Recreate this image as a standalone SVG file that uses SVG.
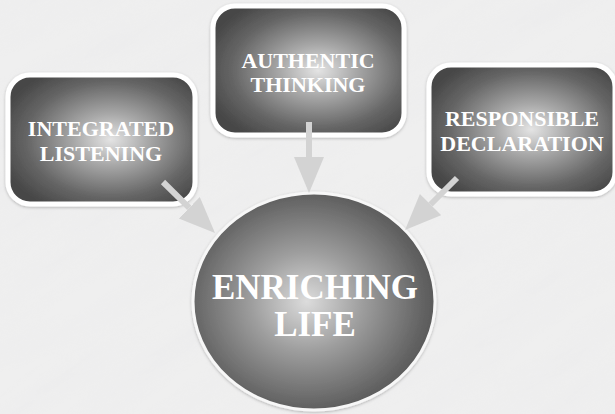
<svg xmlns="http://www.w3.org/2000/svg" width="615" height="414" viewBox="0 0 615 414">
  <defs>
    <style>
      .box { fill: url(#boxGrad); stroke: #ffffff; stroke-width: 5; filter: url(#soft); }
      .hub { fill: url(#hubGrad); stroke: #f7f7f7; stroke-width: 3; filter: url(#soft); }
      .lbl { font-family: "Liberation Serif", "Times New Roman", serif; font-weight: bold; fill: #ffffff; text-anchor: middle; }
      .small { font-size: 22px; }
      .big { font-size: 35px; }
      .conn { stroke: #d3d3d3; stroke-width: 6; fill: none; marker-end: url(#head); }
    </style>
    <radialGradient id="boxGrad" cx="0.55" cy="0.5" r="0.62">
      <stop offset="0" stop-color="#e4e4e4"/>
      <stop offset="0.32" stop-color="#a8a8a8"/>
      <stop offset="0.72" stop-color="#666666"/>
      <stop offset="1" stop-color="#464646"/>
    </radialGradient>
    <radialGradient id="hubGrad" cx="0.47" cy="0.5" r="0.6">
      <stop offset="0" stop-color="#dcdcdc"/>
      <stop offset="0.38" stop-color="#9e9e9e"/>
      <stop offset="0.78" stop-color="#666666"/>
      <stop offset="1" stop-color="#4a4a4a"/>
    </radialGradient>
    <filter id="soft" x="-10%" y="-10%" width="120%" height="120%">
      <feDropShadow dx="0" dy="1" stdDeviation="1.5" flood-color="#000000" flood-opacity="0.25"/>
    </filter>
    <filter id="marble" x="0" y="0" width="100%" height="100%">
      <feTurbulence type="fractalNoise" baseFrequency="0.006 0.04" numOctaves="4" seed="7"/>
      <feColorMatrix type="matrix" values="0 0 0 0 0.8  0 0 0 0 0.8  0 0 0 0 0.82  0 0 0 0.9 -0.3"/>
    </filter>
    <marker id="head" markerUnits="userSpaceOnUse" markerWidth="40" markerHeight="32" refX="0" refY="15" orient="auto">
      <path d="M0,0 L36,15 L0,30 Z" fill="#d3d3d3"/>
    </marker>
  </defs>

  <!-- marble backdrop -->
  <rect width="615" height="414" fill="#efefef"/>
  <rect x="-200" y="-200" width="1015" height="814" filter="url(#marble)" transform="rotate(-30 307 207)" opacity="0.5"/>

  <g id="integrated-listening">
    <rect class="box" x="8" y="75" width="187" height="129" rx="22"/>
    <text class="lbl small" x="101" y="136">INTEGRATED</text>
    <text class="lbl small" x="101" y="161">LISTENING</text>
  </g>

  <g id="authentic-thinking">
    <rect class="box" x="213" y="6" width="191" height="129" rx="22"/>
    <text class="lbl small" x="308" y="68">AUTHENTIC</text>
    <text class="lbl small" x="308" y="92">THINKING</text>
  </g>

  <g id="responsible-declaration">
    <rect class="box" x="429" y="65" width="186" height="129" rx="22"/>
    <text class="lbl small" x="522" y="126">RESPONSIBLE</text>
    <text class="lbl small" x="522" y="151">DECLARATION</text>
  </g>

  <g id="enriching-life">
    <ellipse class="hub" cx="314" cy="301.5" rx="121" ry="108.5"/>
    <text class="lbl big" x="315" y="299">ENRICHING</text>
    <text class="lbl big" x="315" y="336">LIFE</text>
  </g>

  <g id="connectors">
    <line class="conn" x1="163" y1="182" x2="189.3" y2="207.8"/>
    <line class="conn" x1="309" y1="122" x2="309" y2="157"/>
    <line class="conn" x1="457" y1="178" x2="430.5" y2="204.5"/>
  </g>
</svg>
